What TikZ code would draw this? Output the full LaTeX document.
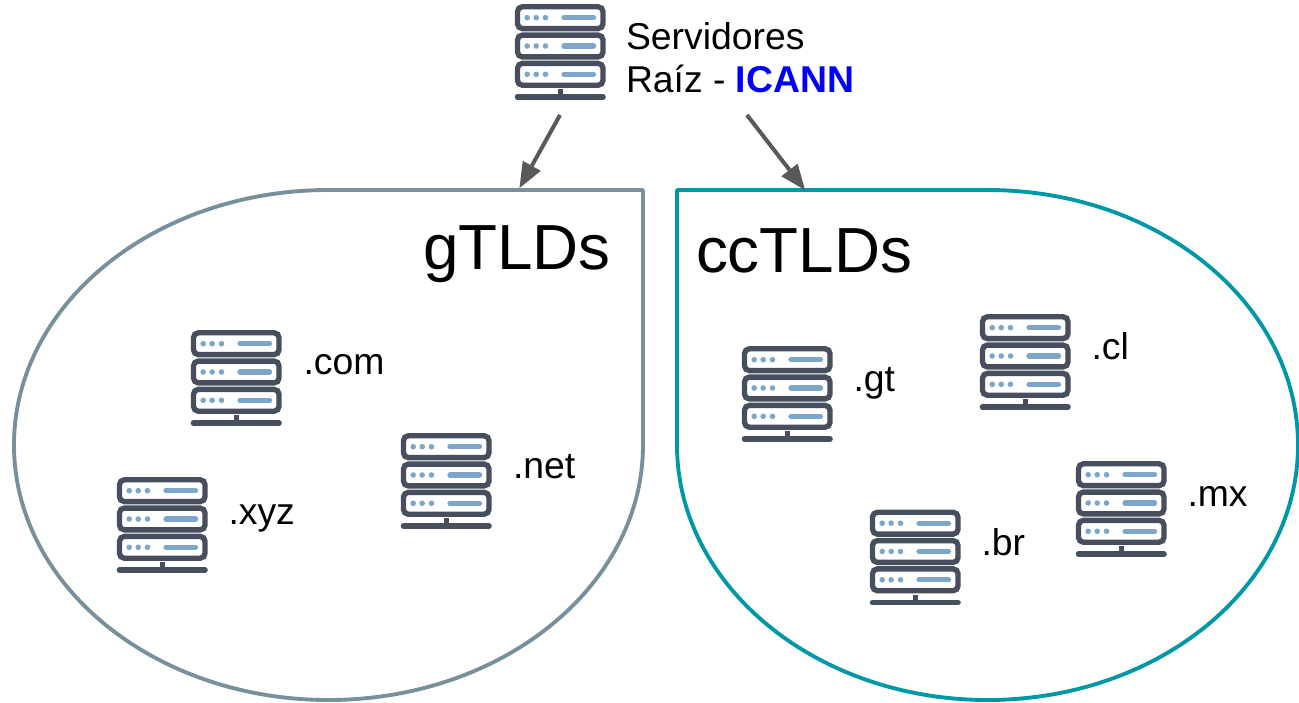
\documentclass[tikz,border=0pt]{standalone}
\usepackage{fontspec}
\setmainfont{Liberation Sans}
\definecolor{icondark}{HTML}{474F5E}
\definecolor{iconblue}{HTML}{7EA6CB}
\definecolor{gborder}{HTML}{78909C}
\definecolor{ccborder}{HTML}{0097A7}
\definecolor{arrowgray}{HTML}{595959}
\definecolor{icannblue}{HTML}{0000FF}
\usetikzlibrary{arrows.meta}
\tikzset{
  serverframe/.style={draw=icondark,line width=4pt,rounded corners=3.6pt,fill=white},
  serverline/.style={draw=icondark,line width=4.2pt,line cap=round},
  blob/.style={line width=2.9pt,line join=round},
  link/.style={draw=arrowgray,line width=3pt,-{Triangle[length=19pt,width=15.5pt,line width=0pt]}},
  lbl/.style={inner sep=0pt,outer sep=0pt,anchor=base west,font=\fontsize{28}{32}\selectfont},
  big/.style={inner sep=0pt,outer sep=0pt,anchor=base west,font=\fontsize{47.8}{56}\selectfont},
  server/.pic={
    \foreach \yy in {0,28.3,56.6}{
      \path[serverframe] (3,1.8+\yy) rectangle (88.5,23.6+\yy);
      \fill[iconblue] (12.7,12.7+\yy) circle[radius=2.8];
      \fill[iconblue] (21.7,12.7+\yy) circle[radius=2.8];
      \fill[iconblue] (31,12.7+\yy) circle[radius=2.8];
      \draw[iconblue,line width=4pt,line cap=round] (49.5,12.7+\yy) -- (79,12.7+\yy);
    }
    \draw[icondark,line width=4pt] (45.7,84) -- (45.7,92);
    \draw[serverline] (3,92) -- (88.5,92);
  }
}
\begin{document}
\begin{tikzpicture}[x=0.75pt,y=-0.75pt]
\useasboundingbox (0,0) rectangle (1299,703);
\draw[blob,draw=gborder] (643,190) -- (328.5,190) .. controls (154.8,190) and (14,304.2) .. (14,445)
  .. controls (14,585.8) and (154.8,700) .. (328.5,700)
  .. controls (502.2,700) and (643,585.8) .. (643,445) -- cycle;
\draw[blob,draw=ccborder] (677,190) -- (987.5,190) .. controls (1159,190) and (1298,304.2) .. (1298,445)
  .. controls (1298,585.8) and (1159,700) .. (987.5,700)
  .. controls (816,700) and (677,585.8) .. (677,445) -- cycle;
\pic (root) at (514.5,5) {server};
\pic (com) at (190.5,331) {server};
\pic (net) at (400.5,434) {server};
\pic (xyz) at (116.5,478) {server};
\pic (gt) at (741.5,347) {server};
\pic (cl) at (979.5,315) {server};
\pic (br) at (869.5,510.5) {server};
\pic (mx) at (1075.5,462) {server};
\node[lbl] (rootA) at (626,49) {Servidores};
\node[lbl] (rootB) at (626,92) {Raíz - \textcolor{icannblue}{\textbf{ICANN}}};
\node[big] (g) at (423,269) {gTLDs};
\node[big] (cc) at (696,272) {ccTLDs};
\node[lbl] (lcom) at (303.5,374) {.com};
\node[lbl] (lnet) at (513,478) {.net};
\node[lbl] (lxyz) at (228.5,524) {.xyz};
\node[lbl] (lgt) at (853.5,391) {.gt};
\node[lbl] (lcl) at (1091.5,359) {.cl};
\node[lbl] (lbr) at (981.5,555) {.br};
\node[lbl] (lmx) at (1187.5,506) {.mx};
\coordinate (fromL) at (560,115);
\coordinate (toL) at (519.5,188);
\coordinate (fromR) at (747,115);
\coordinate (toR) at (805,190);
\draw[link] (fromL) -- (toL);
\draw[link] (fromR) -- (toR);
\end{tikzpicture}
\end{document}
